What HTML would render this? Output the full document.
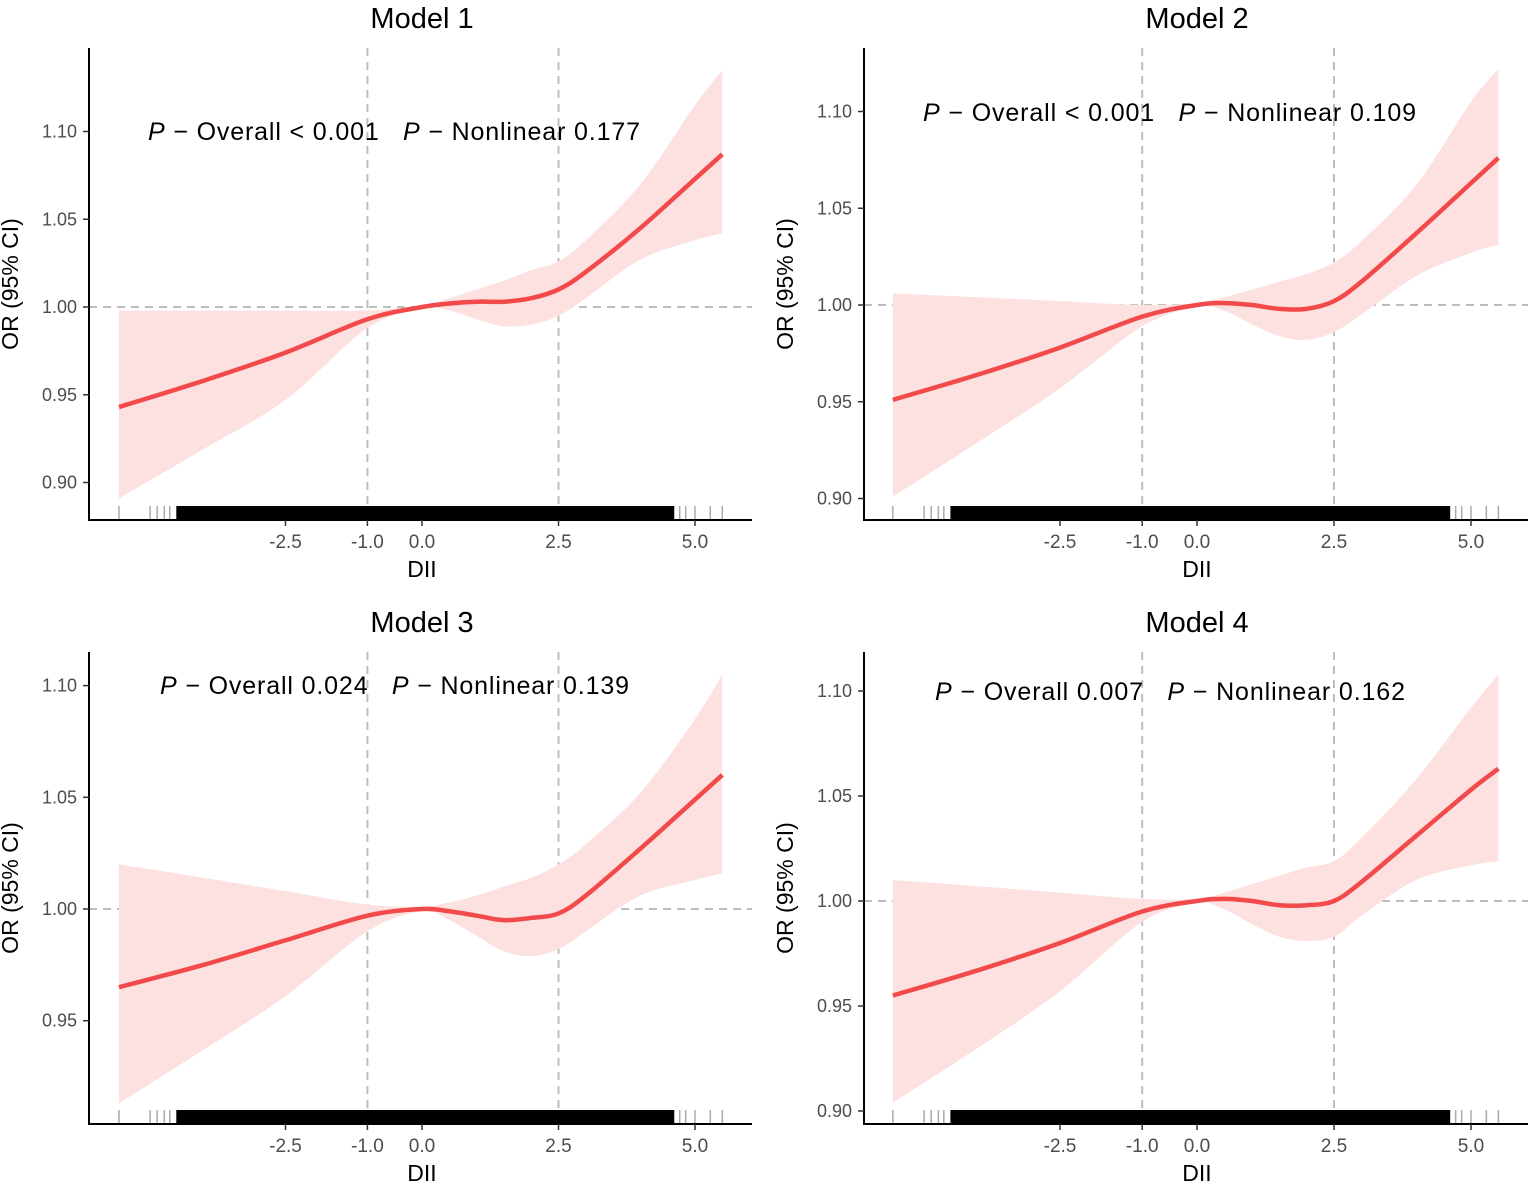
<!DOCTYPE html>
<html><head><meta charset="utf-8">
<style>
html,body{margin:0;padding:0;background:#fff;}
svg{display:block;font-family:"Liberation Sans",Arial,sans-serif;}
text{white-space:pre;}
</style></head>
<body>
<svg id="chart" width="1535" height="1186" viewBox="0 0 1535 1186" xmlns="http://www.w3.org/2000/svg"></svg>
<script>
const xKnots = [-5.55,-4,-2.5,-1,0,0.5,1,1.5,2,2.5,3,4,5,5.5];
const xTicks = [-2.5,-1.0,0.0,2.5,5.0];
const xTickLabels = ["-2.5","-1.0","0.0","2.5","5.0"];
const refLinesX = [-1, 2.5];
const rugSparse = [-5.55,-4.98,-4.85,-4.72,-4.62,4.72,4.83,5.0,5.28,5.5];
const rugDense = [-4.5, 4.62];

const m1Est = [0.943,0.958,0.974,0.993,1.0,1.002,1.003,1.003,1.005,1.010,1.020,1.045,1.073,1.087];
const m1Lo  = [0.891,0.919,0.947,0.988,0.999,0.998,0.993,0.989,0.990,0.995,1.005,1.027,1.038,1.042];
const m1Hi  = [0.998,0.998,0.998,0.998,1.001,1.005,1.010,1.015,1.021,1.026,1.038,1.070,1.115,1.135];
const m2Est = [0.951,0.964,0.978,0.994,1.0,1.001,1.000,0.998,0.998,1.002,1.012,1.037,1.063,1.076];
const m2Lo  = [0.901,0.929,0.957,0.989,0.999,0.997,0.990,0.984,0.982,0.986,0.995,1.015,1.027,1.031];
const m2Hi  = [1.006,1.004,1.002,1.000,1.001,1.004,1.008,1.012,1.016,1.022,1.033,1.062,1.105,1.122];
const m3Est = [0.965,0.975,0.986,0.997,1.0,0.999,0.997,0.995,0.996,0.998,1.006,1.027,1.049,1.060];
const m3Lo  = [0.913,0.937,0.961,0.990,0.999,0.995,0.988,0.981,0.979,0.982,0.990,1.006,1.013,1.016];
const m3Hi  = [1.020,1.014,1.008,1.002,1.001,1.003,1.006,1.010,1.014,1.020,1.029,1.052,1.085,1.105];
const m4Est = [0.955,0.967,0.980,0.995,1.0,1.001,1.000,0.998,0.998,1.000,1.009,1.031,1.053,1.063];
const m4Lo  = [0.904,0.930,0.957,0.990,0.999,0.996,0.989,0.983,0.981,0.983,0.993,1.010,1.017,1.019];
const m4Hi  = [1.010,1.007,1.004,1.001,1.001,1.004,1.008,1.012,1.016,1.019,1.030,1.058,1.092,1.108];

const m1YTicks = [0.90,0.95,1.00,1.05,1.10];
const m2YTicks = [0.90,0.95,1.00,1.05,1.10];
const m3YTicks = [0.95,1.00,1.05,1.10];
const m4YTicks = [0.90,0.95,1.00,1.05,1.10];
const m1Text = ["Overall < 0.001","Nonlinear 0.177"];
const m2Text = ["Overall < 0.001","Nonlinear 0.109"];
const m3Text = ["Overall 0.024","Nonlinear 0.139"];
const m4Text = ["Overall 0.007","Nonlinear 0.162"];

const NS="http://www.w3.org/2000/svg";
const svg=document.getElementById('chart');
function mk(tag,attrs,parent){const e=document.createElementNS(NS,tag);for(const k in attrs)e.setAttribute(k,attrs[k]);(parent||svg).appendChild(e);return e;}

function spline(pts){
  let d="M"+pts[0][0].toFixed(2)+","+pts[0][1].toFixed(2);
  for(let i=0;i<pts.length-1;i++){
    const p0=pts[Math.max(0,i-1)],p1=pts[i],p2=pts[i+1],p3=pts[Math.min(pts.length-1,i+2)];
    const c1=[p1[0]+(p2[0]-p0[0])/6,p1[1]+(p2[1]-p0[1])/6];
    const c2=[p2[0]-(p3[0]-p1[0])/6,p2[1]-(p3[1]-p1[1])/6];
    d+="C"+c1[0].toFixed(2)+","+c1[1].toFixed(2)+" "+c2[0].toFixed(2)+","+c2[1].toFixed(2)+" "+p2[0].toFixed(2)+","+p2[1].toFixed(2);
  }
  return d;
}
function splineCont(pts){return spline(pts).replace(/^M/,"L");}

function panel(cfg){
  const g=mk('g',{});
  
  
  const sx=v=>cfg.x0+v*cfg.pxPerUnit;
  const sy=v=>cfg.y100-(v-1)/0.05*cfg.pxPer05;
  const t=mk('text',{x:cfg.x0,y:cfg.top-20,'font-size':29,'text-anchor':'middle',fill:'#000'},g);
  t.textContent=cfg.title;
  
  
  const h=mk('line',{x1:cfg.left,x2:cfg.right,y1:sy(1),y2:sy(1),stroke:'#bdbdbd','stroke-width':2,'stroke-dasharray':'8,6'},g);
  
  
  refLinesX.forEach(v=>{
    const l=mk('line',{x1:sx(v),x2:sx(v),y1:cfg.top,y2:cfg.bottom,stroke:'#bdbdbd','stroke-width':2,'stroke-dasharray':'8,6'},g);
    
    
  });
  const up=xKnots.map((x,i)=>[sx(x),sy(cfg.hi[i])]);
  const lo=xKnots.map((x,i)=>[sx(x),sy(cfg.lo[i])]).reverse();
  const band=mk('path',{d:spline(up)+splineCont(lo)+"Z",fill:'#fde0e0',stroke:'none'},g);
  
  
  const est=xKnots.map((x,i)=>[sx(x),sy(cfg.est[i])]);
  const line=mk('path',{d:spline(est),fill:'none',stroke:'#f24a4a','stroke-width':4.5},g);
  
  
  const rug=mk('g',{},g);
  
  
  rugSparse.forEach(v=>{mk('line',{x1:sx(v),x2:sx(v),y1:cfg.bottom-14,y2:cfg.bottom,stroke:'#aaa','stroke-width':1.5},rug);});
  mk('rect',{x:sx(rugDense[0]),y:cfg.bottom-14,width:sx(rugDense[1])-sx(rugDense[0]),height:14,fill:'#000'},rug);
  const ya=mk('line',{x1:cfg.left,x2:cfg.left,y1:cfg.top,y2:cfg.bottom+1,stroke:'#000','stroke-width':2},g);
  
  
  const xa=mk('line',{x1:cfg.left-1,x2:cfg.right,y1:cfg.bottom,y2:cfg.bottom,stroke:'#000','stroke-width':2},g);
  
  
  cfg.yTicks.forEach(v=>{
    mk('line',{x1:cfg.left-6,x2:cfg.left,y1:sy(v),y2:sy(v),stroke:'#333','stroke-width':1.5},g);
    const tl=mk('text',{x:cfg.left-12,y:sy(v)+6,'font-size':18,'text-anchor':'end',fill:'#4d4d4d'},g);
    tl.textContent=v.toFixed(2);
    
    
  });
  xTicks.forEach((v,i)=>{
    mk('line',{x1:sx(v),x2:sx(v),y1:cfg.bottom,y2:cfg.bottom+6,stroke:'#333','stroke-width':1.5},g);
    const tl=mk('text',{x:sx(v),y:cfg.bottom+28,'font-size':19,'text-anchor':'middle',fill:'#4d4d4d'},g);
    tl.textContent=xTickLabels[i];
    
    
  });
  const xt=mk('text',{x:cfg.x0,y:cfg.bottom+57,'font-size':23,'text-anchor':'middle',fill:'#000'},g);
  xt.textContent="DII";
  
  
  const yx=cfg.left-71, yy=(cfg.top+cfg.bottom)/2;
  const yt=mk('text',{x:yx,y:yy,'font-size':23,'text-anchor':'middle',fill:'#000',transform:`rotate(-90 ${yx} ${yy})`},g);
  yt.textContent="OR (95% CI)";
  
  
  const pt=mk('text',{x:cfg.px,y:cfg.py,'font-size':25,fill:'#000',textLength:cfg.pw,lengthAdjust:'spacing'},g);
  
  
  pt.innerHTML=`<tspan font-style="italic">P</tspan> − ${cfg.text[0]}   <tspan font-style="italic">P</tspan> − ${cfg.text[1]}`;
}

panel({name:'panel-model-1',title:'Model 1',x0:422,pxPerUnit:54.6,y100:307,pxPer05:87.75,left:89,right:752,top:48,bottom:520,yTicks:m1YTicks,est:m1Est,lo:m1Lo,hi:m1Hi,text:m1Text,px:148,py:140,pw:492});
panel({name:'panel-model-2',title:'Model 2',x0:1197,pxPerUnit:54.8,y100:305,pxPer05:96.75,left:864,right:1528,top:48,bottom:520,yTicks:m2YTicks,est:m2Est,lo:m2Lo,hi:m2Hi,text:m2Text,px:923,py:121,pw:493});
panel({name:'panel-model-3',title:'Model 3',x0:422,pxPerUnit:54.6,y100:909,pxPer05:111.7,left:89,right:752,top:652,bottom:1124,yTicks:m3YTicks,est:m3Est,lo:m3Lo,hi:m3Hi,text:m3Text,px:160,py:694,pw:469});
panel({name:'panel-model-4',title:'Model 4',x0:1197,pxPerUnit:54.8,y100:901,pxPer05:105,left:864,right:1528,top:652,bottom:1124,yTicks:m4YTicks,est:m4Est,lo:m4Lo,hi:m4Hi,text:m4Text,px:935,py:700,pw:470});
</script>
</body></html>
